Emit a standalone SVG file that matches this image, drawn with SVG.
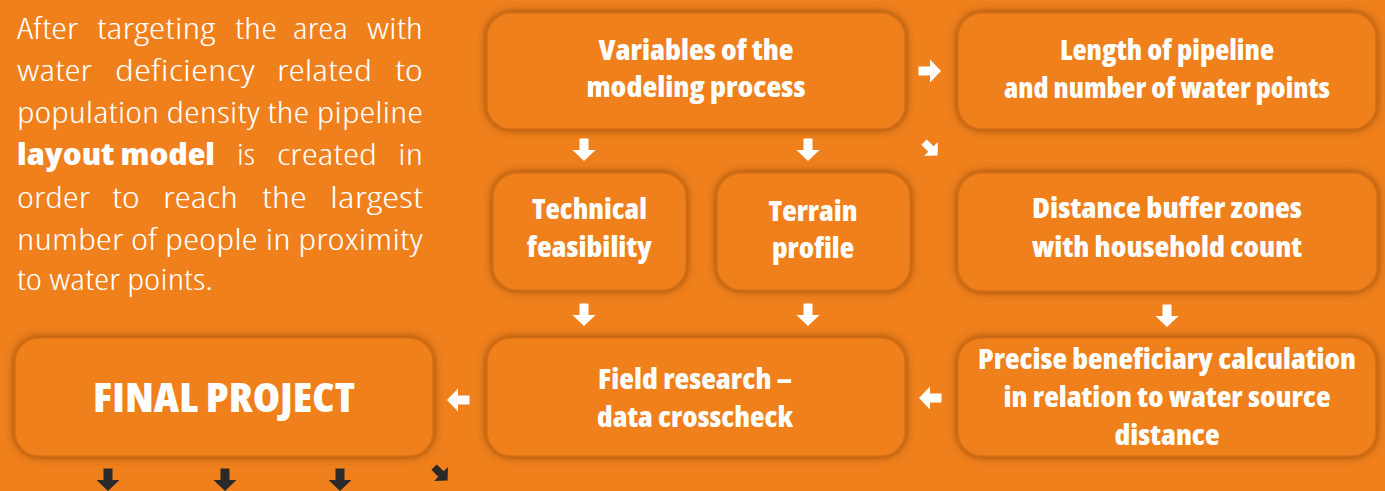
<svg xmlns="http://www.w3.org/2000/svg" width="1385" height="491" viewBox="0 0 1385 491">
<defs>
<style>
.bg{fill:#EF801C}
.node rect{fill:#EF801C;stroke:#D86F15;stroke-width:1.5;filter:url(#shadow)}
.lbl{font-family:"Open Sans","Liberation Sans",sans-serif;font-weight:800;font-stretch:75%;font-size:29px;fill:#fff;text-anchor:middle}
.big{font-size:40px}
.para{font-family:"Open Sans","Liberation Sans",sans-serif;font-weight:300;font-stretch:87.5%;font-size:30px;fill:#fff}
.para .b{font-weight:800}
.wa{fill:#fff}
.da{fill:#2A2A2A}
</style>
<filter id="shadow" x="-10%" y="-20%" width="120%" height="140%">
<feGaussianBlur in="SourceAlpha" stdDeviation="4" result="b"/>
<feFlood flood-color="#7A3A05" flood-opacity="0.85"/>
<feComposite in2="b" operator="in" result="s"/>
<feMerge><feMergeNode in="s"/><feMergeNode in="SourceGraphic"/></feMerge>
</filter>
<path id="arr" d="M-4.5,-11.5 H4.5 V0 H11.5 L0,11 L-11.5,0 H-4.5 Z"/>
</defs>
<rect class="bg" x="0" y="0" width="1385" height="491"/>

<g id="intro">
<text class="para">
<tspan x="17" y="39" textLength="61" lengthAdjust="spacingAndGlyphs">After</tspan> <tspan x="97" y="39" textLength="118" lengthAdjust="spacingAndGlyphs">targeting</tspan> <tspan x="235" y="39" textLength="42" lengthAdjust="spacingAndGlyphs">the</tspan> <tspan x="293" y="39" textLength="55" lengthAdjust="spacingAndGlyphs">area</tspan> <tspan x="367" y="39" textLength="56" lengthAdjust="spacingAndGlyphs">with</tspan>
<tspan x="17" y="81" textLength="75" lengthAdjust="spacingAndGlyphs">water</tspan> <tspan x="115" y="81" textLength="140" lengthAdjust="spacingAndGlyphs">deficiency</tspan> <tspan x="277" y="81" textLength="95" lengthAdjust="spacingAndGlyphs">related</tspan> <tspan x="395" y="81" textLength="28" lengthAdjust="spacingAndGlyphs">to</tspan>
<tspan x="17" y="123" textLength="406" lengthAdjust="spacingAndGlyphs">population density the pipeline</tspan>
<tspan class="b" x="17" y="165" textLength="198" lengthAdjust="spacingAndGlyphs">layout model</tspan> <tspan x="237" y="165" textLength="18" lengthAdjust="spacingAndGlyphs">is</tspan> <tspan x="277" y="165" textLength="100" lengthAdjust="spacingAndGlyphs">created</tspan> <tspan x="398" y="165" textLength="25" lengthAdjust="spacingAndGlyphs">in</tspan>
<tspan x="17" y="208" textLength="73" lengthAdjust="spacingAndGlyphs">order</tspan> <tspan x="112" y="208" textLength="28" lengthAdjust="spacingAndGlyphs">to</tspan> <tspan x="163" y="208" textLength="75" lengthAdjust="spacingAndGlyphs">reach</tspan> <tspan x="262" y="208" textLength="45" lengthAdjust="spacingAndGlyphs">the</tspan> <tspan x="330" y="208" textLength="93" lengthAdjust="spacingAndGlyphs">largest</tspan>
<tspan x="17" y="250" textLength="406" lengthAdjust="spacingAndGlyphs">number of people in proximity</tspan>
<tspan x="17" y="290" textLength="196" lengthAdjust="spacingAndGlyphs">to water points.</tspan>
</text>
</g>

<g id="node-variables" class="node">
<rect x="487" y="13" width="418" height="116" rx="24"/>
<text class="lbl"><tspan x="696" y="60" textLength="195" lengthAdjust="spacingAndGlyphs">Variables of the</tspan><tspan x="696" y="97" textLength="219" lengthAdjust="spacingAndGlyphs">modeling process</tspan></text>
</g>
<g id="node-length" class="node">
<rect x="958" y="13" width="418" height="116" rx="24"/>
<text class="lbl"><tspan x="1167" y="60" textLength="214" lengthAdjust="spacingAndGlyphs">Length of pipeline</tspan><tspan x="1167" y="98" textLength="326" lengthAdjust="spacingAndGlyphs">and number of water points</tspan></text>
</g>
<g id="node-technical" class="node">
<rect x="493" y="173" width="193" height="117" rx="24"/>
<text class="lbl"><tspan x="589.5" y="219" textLength="115" lengthAdjust="spacingAndGlyphs">Technical</tspan><tspan x="589.5" y="257" textLength="125" lengthAdjust="spacingAndGlyphs">feasibility</tspan></text>
</g>
<g id="node-terrain" class="node">
<rect x="717" y="173" width="193" height="117" rx="24"/>
<text class="lbl"><tspan x="813" y="221" textLength="89" lengthAdjust="spacingAndGlyphs">Terrain</tspan><tspan x="813" y="258" textLength="82" lengthAdjust="spacingAndGlyphs">profile</tspan></text>
</g>
<g id="node-distance" class="node">
<rect x="958" y="173" width="419" height="118" rx="24"/>
<text class="lbl"><tspan x="1167" y="218" textLength="270" lengthAdjust="spacingAndGlyphs">Distance buffer zones</tspan><tspan x="1167" y="257" textLength="270" lengthAdjust="spacingAndGlyphs">with household count</tspan></text>
</g>
<g id="node-field" class="node">
<rect x="487" y="338" width="418" height="118" rx="24"/>
<text class="lbl"><tspan x="695" y="389" textLength="194" lengthAdjust="spacingAndGlyphs">Field research –</tspan><tspan x="695" y="427" textLength="196" lengthAdjust="spacingAndGlyphs">data crosscheck</tspan></text>
</g>
<g id="node-precise" class="node">
<rect x="958" y="338" width="418" height="118" rx="24"/>
<text class="lbl"><tspan x="1167" y="369" textLength="378" lengthAdjust="spacingAndGlyphs">Precise beneficiary calculation</tspan><tspan x="1167" y="407" textLength="327" lengthAdjust="spacingAndGlyphs">in relation to water source</tspan><tspan x="1167" y="445" textLength="105" lengthAdjust="spacingAndGlyphs">distance</tspan></text>
</g>
<g id="node-final" class="node">
<rect x="15" y="338" width="418" height="118" rx="24"/>
<text class="lbl big" x="224" y="412" textLength="262" lengthAdjust="spacingAndGlyphs">FINAL PROJECT</text>
</g>

<g id="connectors">
<use href="#arr" class="wa" transform="translate(930,71) rotate(-90)"/>
<use href="#arr" class="wa" transform="translate(931,149) rotate(-45) scale(0.85)"/>
<use href="#arr" class="wa" transform="translate(584,150)"/>
<use href="#arr" class="wa" transform="translate(808,150)"/>
<use href="#arr" class="wa" transform="translate(584,315)"/>
<use href="#arr" class="wa" transform="translate(808,315)"/>
<use href="#arr" class="wa" transform="translate(1167,316)"/>
<use href="#arr" class="wa" transform="translate(930,398) rotate(90)"/>
<use href="#arr" class="wa" transform="translate(458,400) rotate(90)"/>
<use href="#arr" class="da" transform="translate(108,480)"/>
<use href="#arr" class="da" transform="translate(225,480)"/>
<use href="#arr" class="da" transform="translate(340,480)"/>
<use href="#arr" class="da" transform="translate(441,474) rotate(-45) scale(0.85)"/>
</g>
</svg>
